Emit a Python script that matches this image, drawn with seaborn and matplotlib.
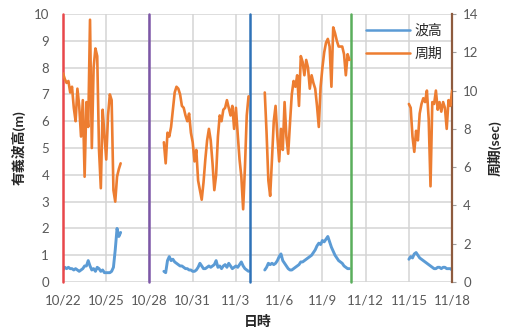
import numpy as np
import pandas as pd
import matplotlib
matplotlib.use("Agg")
import matplotlib.pyplot as plt
from matplotlib.lines import Line2D
import seaborn as sns

# Observation segments: start (days after 10/22 00:00), samples every 3 hours
seg_starts = [0.0, 7.0, 14.0, 24.0]
step_days = 0.125

# Significant wave height (m)
wave_seg1 = [0.45, 0.55, 0.5, 0.55, 0.5, 0.5, 0.45, 0.5, 0.45, 0.4, 0.45, 0.5, 0.6, 0.6, 0.8,
             0.6, 0.45, 0.5, 0.4, 0.55, 0.5, 0.4, 0.45, 0.35, 0.35, 0.35, 0.35, 0.4, 0.55, 1.2,
             2.0, 1.7, 1.85]
wave_seg2 = [0.4, 0.35, 0.8, 0.95, 0.8, 0.85, 0.75, 0.7, 0.65, 0.6, 0.6, 0.55, 0.5, 0.5, 0.45,
             0.45, 0.4, 0.4, 0.45, 0.55, 0.7, 0.6, 0.5, 0.5, 0.55, 0.6, 0.55, 0.6, 0.65, 0.8,
             0.55, 0.6, 0.5, 0.6, 0.65, 0.55, 0.7, 0.6, 0.5, 0.55, 0.6, 0.55, 0.65, 0.75, 0.6,
             0.5, 0.45, 0.4]
wave_seg3 = [0.45, 0.55, 0.7, 0.65, 0.7, 0.65, 0.7, 0.8, 0.95, 1.05, 0.8, 0.7, 0.6, 0.5, 0.45,
             0.45, 0.5, 0.55, 0.6, 0.65, 0.75, 0.75, 0.8, 0.85, 0.9, 0.95, 1.0, 1.1, 1.2, 1.35,
             1.45, 1.4, 1.55, 1.5, 1.6, 1.7, 1.5, 1.3, 1.15, 1.0, 0.9, 0.8, 0.75, 0.7, 0.6,
             0.55, 0.5, 0.5]
wave_seg4 = [0.85, 0.95, 0.9, 1.05, 1.1, 1.0, 0.9, 0.85, 0.8, 0.75, 0.7, 0.65, 0.6, 0.55, 0.5,
             0.5, 0.55, 0.55, 0.5, 0.55, 0.55, 0.5, 0.5, 0.5, 0.45]

# Wave period (sec)
period_seg1 = [10.9, 10.6, 10.4, 10.5, 9.9, 10.2, 9.1, 8.4, 10.1, 9.2, 7.6, 9.5, 5.5, 9.4, 8.1,
               13.7, 7.0, 11.2, 12.2, 11.8, 6.9, 4.9, 9.0, 7.7, 6.4, 8.7, 9.8, 9.5, 4.8, 4.2,
               5.5, 5.9, 6.2]
period_seg2 = [7.3, 6.2, 7.8, 7.6, 8.1, 9.0, 9.9, 10.2, 10.1, 9.8, 9.2, 9.1, 8.7, 8.4, 8.8,
               7.8, 7.3, 6.3, 6.9, 5.3, 4.8, 4.3, 5.2, 6.4, 7.4, 8.0, 7.4, 6.2, 4.8, 5.6,
               7.6, 8.7, 8.4, 9.0, 9.1, 9.5, 9.1, 8.7, 9.2, 8.0, 9.1, 7.7, 6.4, 5.5, 3.8,
               6.0, 8.7, 9.7]
period_seg3 = [9.9, 7.8, 5.3, 4.5, 6.4, 8.4, 9.2, 7.6, 6.3, 8.0, 6.9, 9.4, 7.6, 6.7, 8.3,
               9.8, 10.5, 10.2, 10.8, 9.2, 11.8, 11.5, 10.8, 11.6, 11.2, 10.1, 10.8, 10.4, 10.1, 9.2,
               8.1, 10.2, 11.2, 12.0, 12.5, 12.7, 12.3, 10.2, 13.3, 13.0, 12.6, 12.3, 12.3, 12.3, 11.9,
               10.8, 11.9, 11.6]
period_seg4 = [9.3, 9.1, 7.6, 6.8, 7.9, 7.4, 8.8, 9.3, 9.6, 9.4, 10.0, 8.5, 5.0, 9.4, 9.3,
               10.0, 9.0, 9.4, 8.9, 9.4, 9.1, 8.0, 9.5, 9.2, 10.0]

wave_segs = [wave_seg1, wave_seg2, wave_seg3, wave_seg4]
period_segs = [period_seg1, period_seg2, period_seg3, period_seg4]

x_ticks = [0, 3, 6, 9, 12, 15, 18, 21, 24, 27]
x_labels = ["10/22", "10/25", "10/28", "10/31", "11/3", "11/6", "11/9", "11/12", "11/15", "11/18"]

# Weekly markers (10/22, 10/28, 11/4, 11/11)
marker_days = [0, 6, 13, 20]
marker_colors = ["#E8474A", "#7D57A8", "#2F72B8", "#5AAE5C"]

rows = []
for seg, (s0, w, p) in enumerate(zip(seg_starts, wave_segs, period_segs)):
    for i, (wv, pv) in enumerate(zip(w, p)):
        rows.append({"day": s0 + i * step_days, "seg": seg, "wave": wv, "period": pv})
df = pd.DataFrame(rows)

sns.set_style("white")
plt.rcParams["font.family"] = ["Lato", "Noto Sans CJK JP", "DejaVu Sans"]

c_wave = "#5B9BD5"
c_period = "#ED7D31"
c_tick = "#595959"

fig = plt.figure(figsize=(5.08, 3.33), dpi=100)
ax = fig.add_axes([0.124, 0.153, 0.766, 0.805])
ax2 = ax.twinx()

sns.lineplot(data=df, x="day", y="wave", units="seg", estimator=None, color=c_wave,
             linewidth=2.1, ax=ax, legend=False, zorder=3)
sns.lineplot(data=df, x="day", y="period", units="seg", estimator=None, color=c_period,
             linewidth=1.9, ax=ax2, legend=False, zorder=3)

for d, c in zip(marker_days, marker_colors):
    ax.axvline(d, color=c, linewidth=1.8, zorder=4, clip_on=False)

ax.set_xlim(0, 27)
ax.set_ylim(0, 10)
ax2.set_ylim(0, 14)
ax.set_xticks(x_ticks)
ax.set_xticklabels(x_labels)
ax.set_yticks(range(0, 11))
ax2.set_yticks(range(0, 15, 2))

ax.grid(True, color="#D4D4D4", linewidth=1.1)
ax.set_axisbelow(True)
ax2.grid(False)

for a in (ax, ax2):
    for sp in a.spines.values():
        sp.set_visible(False)
ax2.spines["right"].set_visible(True)
ax2.spines["right"].set_color("#8E5B3E")
ax2.spines["right"].set_linewidth(1.6)

ax.tick_params(axis="both", length=0, labelsize=9.5, labelcolor=c_tick)
ax.tick_params(axis="x", pad=9)
ax.tick_params(axis="y", pad=10)
ax2.tick_params(axis="y", length=3, width=0.8, color="#A0A0A0", labelsize=9.5,
                labelcolor=c_tick, pad=5)

ax.set_xlabel("日時", fontsize=10, fontweight="bold", labelpad=6)
ax.set_ylabel("有義波高(m)", fontsize=10, fontweight="bold", labelpad=6)
ax2.set_ylabel("周期(sec)", fontsize=10, fontweight="bold", labelpad=6, rotation=90)

handles = [Line2D([], [], color=c_wave, linewidth=1.8),
           Line2D([], [], color=c_period, linewidth=1.8)]
leg = ax2.legend(handles, ["波高", "周期"], loc="upper right", frameon=False,
                 fontsize=10, handlelength=3.2, handletextpad=0.3,
                 bbox_to_anchor=(1.0, 1.0), borderaxespad=0.3, labelspacing=0.7)

fig.savefig("out.png", dpi=100, facecolor="white")
